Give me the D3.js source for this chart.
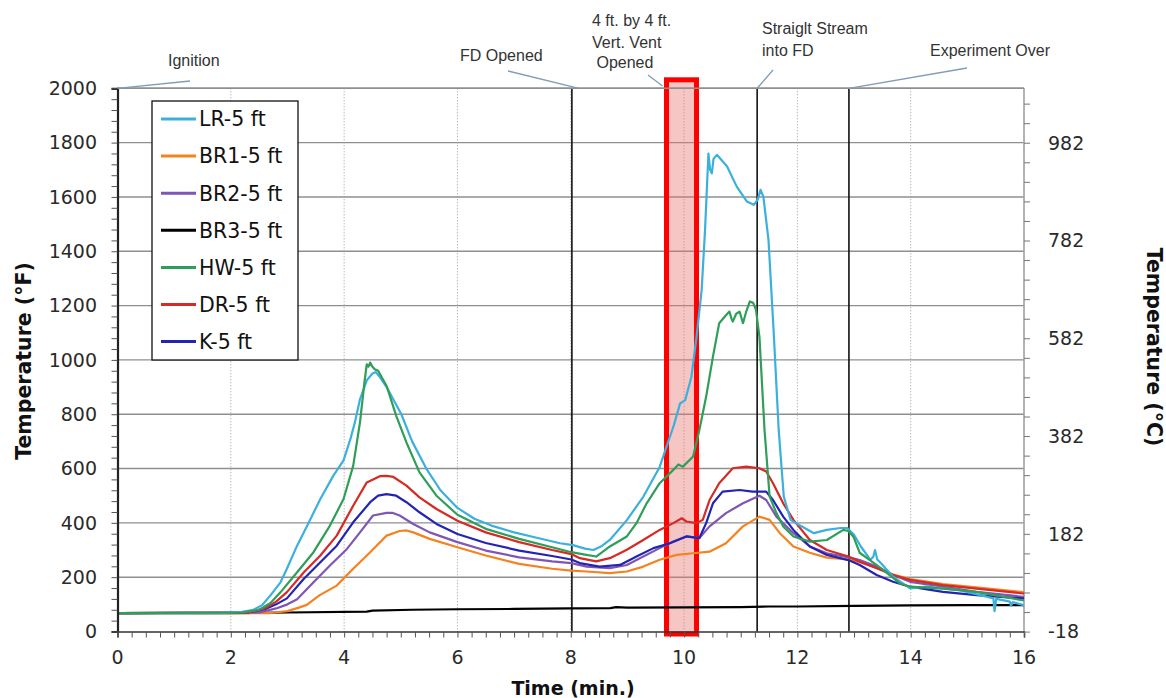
<!DOCTYPE html>
<html><head><meta charset="utf-8">
<script src="https://cdn.jsdelivr.net/npm/d3@7"></script>
<style>html,body{margin:0;padding:0;background:#fff;}svg{display:block;}</style>
</head><body><svg id="c" width="1166" height="698"></svg>
<script>
// ---- data (time in minutes, temperature in °F) ----
const seriesNames = ["LR-5 ft","BR1-5 ft","BR2-5 ft","BR3-5 ft","HW-5 ft","DR-5 ft","K-5 ft"];
const LR = [[0,68],[1.8,68],[2.2,72],[2.4,80],[2.55,97],[2.7,133],[2.88,182],[2.99,231],[3.17,316],[3.35,390],[3.58,488],[3.81,574],[3.99,630],[4.11,708],[4.19,770],[4.28,855],[4.4,925],[4.5,950],[4.56,955],[4.62,940],[4.75,900],[5.01,800],[5.2,700],[5.45,600],[5.7,520],[6.0,455],[6.3,415],[6.6,390],[7.0,365],[7.4,345],[7.81,325],[8.04,318],[8.25,305],[8.4,300],[8.55,315],[8.69,337],[8.99,410],[9.28,496],[9.57,606],[9.75,717],[9.82,760],[9.93,840],[10.02,852],[10.13,938],[10.22,1085],[10.31,1256],[10.37,1477],[10.43,1760],[10.46,1700],[10.49,1687],[10.52,1740],[10.58,1755],[10.76,1712],[10.93,1638],[11.11,1583],[11.23,1571],[11.3,1590],[11.35,1626],[11.4,1601],[11.49,1442],[11.58,1110],[11.67,743],[11.76,497],[11.88,411],[12.05,390],[12.29,362],[12.52,374],[12.76,381],[12.88,381],[13.0,356],[13.12,313],[13.29,264],[13.34,275],[13.37,300],[13.41,265],[13.46,255],[13.69,202],[13.99,159],[14.28,165],[14.87,152],[15.46,122],[15.48,75],[15.51,120],[15.75,110],[15.77,95],[15.8,108],[15.98,98],[16,98]];
const BR1 = [[0,68],[2.7,68],[3.0,75],[3.2,88],[3.34,98],[3.57,134],[3.87,169],[4.16,231],[4.46,292],[4.75,353],[4.98,370],[5.1,372],[5.22,365],[5.51,341],[6.0,310],[6.5,280],[7.09,249],[7.67,231],[8.01,224],[8.28,221],[8.69,215],[8.99,221],[9.28,239],[9.57,264],[9.87,282],[10.16,288],[10.45,294],[10.74,325],[11.04,387],[11.33,423],[11.51,411],[11.69,362],[11.93,313],[12.22,290],[12.52,272],[12.9,265],[13.1,255],[13.4,235],[13.69,210],[13.99,193],[14.57,175],[15.16,163],[15.98,145],[16,145]];
const BR2 = [[0,68],[2.5,70],[2.8,85],[3.0,100],[3.17,119],[3.46,181],[3.75,243],[4.05,304],[4.28,365],[4.51,427],[4.75,437],[4.85,437],[4.98,427],[5.22,396],[5.51,365],[6.0,329],[6.5,298],[7.09,273],[7.67,258],[8.01,252],[8.28,239],[8.69,233],[8.99,245],[9.28,276],[9.57,307],[9.81,331],[10.04,350],[10.27,344],[10.45,387],[10.74,436],[11.04,472],[11.33,500],[11.45,484],[11.63,423],[11.93,362],[12.22,313],[12.52,288],[12.93,272],[13.1,263],[13.4,239],[13.69,208],[13.99,183],[14.57,165],[15.16,146],[15.98,128],[16,128]];
const BR3 = [[0,68],[2,68],[3,70],[4.4,73],[4.5,77],[5.2,80],[6,82],[7,83],[8,85],[8.7,86],[8.8,90],[9,88],[10,89],[11,90],[11.5,92],[12,92],[13,94],[14,96],[15,97],[16,97]];
const HW = [[0,68],[2.2,70],[2.5,80],[2.7,105],[2.88,145],[3.17,218],[3.46,292],[3.75,390],[3.99,488],[4.16,610],[4.28,770],[4.36,920],[4.4,984],[4.43,975],[4.46,990],[4.5,975],[4.54,966],[4.6,960],[4.75,904],[4.92,794],[5.1,696],[5.33,586],[5.63,500],[6.0,430],[6.5,378],[7.09,341],[7.67,310],[8.01,292],[8.2,285],[8.45,276],[8.69,313],[8.99,350],[9.16,399],[9.34,472],[9.57,546],[9.81,595],[9.9,615],[9.98,607],[10.16,644],[10.27,742],[10.39,865],[10.51,1012],[10.62,1135],[10.72,1160],[10.8,1178],[10.84,1150],[10.86,1141],[10.92,1170],[10.98,1178],[11.04,1135],[11.1,1180],[11.16,1215],[11.22,1210],[11.27,1184],[11.33,1086],[11.42,743],[11.51,497],[11.63,436],[11.75,387],[11.93,350],[12.22,331],[12.52,337],[12.81,374],[12.9,370],[12.99,349],[13.1,290],[13.28,263],[13.52,226],[13.81,177],[13.99,165],[14.57,158],[15.16,146],[15.98,115],[16,115]];
const DR = [[0,68],[2.3,70],[2.6,85],[2.8,110],[2.99,145],[3.29,218],[3.58,280],[3.87,353],[4.16,463],[4.4,549],[4.63,572],[4.75,573],[4.87,569],[5.1,537],[5.33,494],[5.63,451],[6.0,408],[6.5,365],[7.09,329],[7.67,300],[8.01,285],[8.16,270],[8.45,258],[8.69,270],[8.99,301],[9.28,337],[9.57,374],[9.81,399],[9.96,417],[10.04,405],[10.22,399],[10.33,411],[10.45,484],[10.62,546],[10.86,601],[11.1,607],[11.33,601],[11.45,589],[11.57,546],[11.75,472],[11.93,411],[12.22,337],[12.52,300],[12.9,276],[13.1,257],[13.4,233],[13.69,208],[13.99,190],[14.57,171],[15.16,158],[15.98,140],[16,140]];
const K = [[0,68],[2.3,70],[2.6,82],[2.8,100],[2.99,122],[3.29,194],[3.58,255],[3.87,316],[4.16,402],[4.46,476],[4.6,500],[4.75,506],[4.92,500],[5.1,476],[5.33,439],[5.63,396],[6.0,359],[6.5,326],[7.09,298],[7.67,278],[8.01,265],[8.16,252],[8.51,239],[8.87,245],[9.16,276],[9.46,307],[9.75,325],[10.04,350],[10.27,344],[10.39,399],[10.51,472],[10.68,515],[10.98,521],[11.21,515],[11.45,515],[11.57,484],[11.75,423],[11.93,374],[12.22,313],[12.52,282],[12.9,263],[13.1,245],[13.4,208],[13.69,183],[13.99,165],[14.57,146],[15.16,134],[15.98,122],[16,122]];
const seriesData = [LR, BR1, BR2, BR3, HW, DR, K];
const seriesColors = ["#3bb0dc","#f5821f","#7f55b5","#000000","#2e9e58","#d62a24","#2323b4"];
const drawOrder = [3, 1, 2, 6, 5, 0, 4];

const xTicks = [0,2,4,6,8,10,12,14,16];
const yTicksF = [0,200,400,600,800,1000,1200,1400,1600,1800,2000];
const yTicksC = [-18,182,382,582,782,982];
const eventTimes = [0, 8.02, 11.29, 12.91];
const eventLines = [8.02, 11.29, 12.91];
const ventWindow = [9.69, 10.22];

// ---- scales ----
const svg = d3.select("#c");
const x = d3.scaleLinear().domain([0,16]).range([117.5,1024]);
const y = d3.scaleLinear().domain([0,2000]).range([631.5,88.3]);
const yC = d3.scaleLinear().domain([(0-32)/1.8,(2000-32)/1.8]).range([631.5,88.3]);
const L = x(0), R = x(16), T = y(2000), B = y(0);
const tickFont = "DejaVu Sans, Verdana, sans-serif";

// ---- grid ----
svg.append("g").selectAll("line").data(yTicksF.filter(d=>d>0)).join("line")
  .attr("x1",L).attr("x2",R).attr("y1",d=>y(d)).attr("y2",d=>y(d))
  .attr("stroke","#8f8f8f").attr("stroke-width",1.4);
svg.append("g").selectAll("line").data(xTicks.filter(d=>d>0)).join("line")
  .attr("x1",d=>x(d)).attr("x2",d=>x(d)).attr("y1",T).attr("y2",B)
  .attr("stroke","#9a9a9a").attr("stroke-width",1).attr("stroke-dasharray","1,2");
svg.append("line").attr("x1",R).attr("x2",R).attr("y1",T).attr("y2",B).attr("stroke","#a0a0a0").attr("stroke-width",1.5);

// ---- vent window box ----
svg.append("rect")
  .attr("x",x(ventWindow[0])).attr("y",T-8.5)
  .attr("width",x(ventWindow[1])-x(ventWindow[0])).attr("height",(B+2.5)-(T-8.5))
  .attr("fill","#e8706f").attr("fill-opacity",0.4)
  .attr("stroke","#ff0000").attr("stroke-width",5);

// ---- event lines ----
svg.append("g").selectAll("line").data(eventLines).join("line")
  .attr("x1",d=>x(d)).attr("x2",d=>x(d)).attr("y1",T).attr("y2",B)
  .attr("stroke","#111").attr("stroke-width",1.6);

// ---- series ----
const line = d3.line().x(d=>x(d[0])).y(d=>y(d[1]));
svg.append("g").selectAll("path").data(drawOrder).join("path")
  .attr("d",i=>line(seriesData[i])).attr("fill","none")
  .attr("stroke",i=>seriesColors[i]).attr("stroke-width",i=>i===3?2.2:2.2)
  .attr("stroke-linejoin","round");

// ---- top frame ----
svg.append("line").attr("x1",L).attr("x2",R).attr("y1",T).attr("y2",T).attr("stroke","#8f8f8f").attr("stroke-width",1.5);

// ---- left axis ----
const gl = svg.append("g").attr("transform",`translate(${L},0)`);
gl.call(d3.axisLeft(y).tickValues(d3.range(0,2001,40)).tickSize(6).tickFormat(""));
gl.select(".domain").attr("stroke","#222").attr("stroke-width",2.2);
gl.selectAll(".tick line").attr("stroke","#555");
svg.append("g").selectAll("text").data(yTicksF).join("text")
  .attr("x",97).attr("y",d=>y(d)).attr("dy","0.36em").attr("text-anchor","end")
  .attr("font-family",tickFont).attr("font-size",19).attr("fill","#2a2a2a").text(d=>d);

// ---- bottom axis ----
const gb = svg.append("g").attr("transform",`translate(0,${B})`);
gb.call(d3.axisBottom(x).tickValues(d3.range(0,16.01,0.25)).tickSize(6).tickFormat(""));
gb.select(".domain").attr("stroke","#333").attr("stroke-width",1.6);
gb.selectAll(".tick line").attr("stroke","#555");
svg.append("g").selectAll("text").data(xTicks).join("text")
  .attr("x",d=>x(d)).attr("y",657).attr("dy","0.36em").attr("text-anchor","middle")
  .attr("font-family",tickFont).attr("font-size",19).attr("fill","#2a2a2a").text(d=>d);

// ---- right axis ----
const gr = svg.append("g").attr("transform",`translate(${R},0)`);
gr.call(d3.axisRight(yC).tickValues(d3.range(-18,1093,40)).tickSize(6).tickFormat(""));
gr.select(".domain").remove();
gr.selectAll(".tick line").attr("stroke","#777");
svg.append("g").selectAll("text").data(yTicksC).join("text")
  .attr("x",1048).attr("y",d=>yC(d)).attr("dy","0.36em").attr("text-anchor","start")
  .attr("font-family",tickFont).attr("font-size",19).attr("fill","#2a2a2a").text(d=>d);

// ---- axis titles ----
svg.append("text").attr("transform","translate(24,361) rotate(-90)").attr("text-anchor","middle").attr("dy","0.36em")
  .attr("font-family",tickFont).attr("font-weight","bold").attr("font-size",20.5).attr("fill","#111").text("Temperature (°F)");
svg.append("text").attr("transform","translate(1154,347) rotate(90)").attr("text-anchor","middle").attr("dy","0.36em")
  .attr("font-family",tickFont).attr("font-weight","bold").attr("font-size",20.5).attr("fill","#111").text("Temperature (°C)");
svg.append("text").attr("x",573).attr("y",688).attr("text-anchor","middle").attr("dy","0.36em")
  .attr("font-family",tickFont).attr("font-weight","bold").attr("font-size",19).attr("fill","#111").text("Time (min.)");

// ---- legend ----
const lg = svg.append("g");
lg.append("rect").attr("x",152).attr("y",101).attr("width",146).attr("height",259)
  .attr("fill","#fff").attr("stroke","#111").attr("stroke-width",1.3);
seriesNames.forEach((n,i)=>{
  const yy = 119 + i*37.1;
  lg.append("line").attr("x1",161).attr("x2",196).attr("y1",yy).attr("y2",yy)
    .attr("stroke",seriesColors[i]).attr("stroke-width",3);
  lg.append("text").attr("x",199).attr("y",yy).attr("dy","0.36em")
    .attr("font-family",tickFont).attr("font-size",20.5).attr("fill","#111").text(n);
});

// ---- annotations ----
const annFont = "Liberation Sans, Arial, sans-serif";
const annotations = [
  {t:eventTimes[0], lines:["Ignition"], tx:168, ty:[60], lx:190, ly:81},
  {t:eventTimes[1], lines:["FD Opened"], tx:460, ty:[55], lx:508, ly:71},
  {t:ventWindow[0], lines:["4 ft. by 4 ft.","Vert. Vent"," Opened"], tx:592, ty:[20,42,62], lx:648, ly:75},
  {t:eventTimes[2], lines:["Straiglt Stream","into FD"], tx:762, ty:[28,50], lx:773, ly:70},
  {t:eventTimes[3], lines:["Experiment Over"], tx:930, ty:[50], lx:967, ly:68}
];
annotations.forEach(a=>{
  const ex = a.t===ventWindow[0] ? x(a.t)-4 : x(a.t)+ (a.t===eventTimes[1]?7:0);
  const ey = a.t===ventWindow[0] ? 86 : T;
  svg.append("line").attr("x1",a.lx).attr("y1",a.ly).attr("x2",ex).attr("y2",ey)
    .attr("stroke","#7f9cb8").attr("stroke-width",1.3);
  a.lines.forEach((s,j)=>{
    svg.append("text").attr("x",a.tx).attr("y",a.ty[j]).attr("dy","0.36em")
      .attr("font-family",annFont).attr("font-size",16).attr("fill","#333")
      .attr("xml:space","preserve").style("white-space","pre").text(s);
  });
});
</script></body></html>
